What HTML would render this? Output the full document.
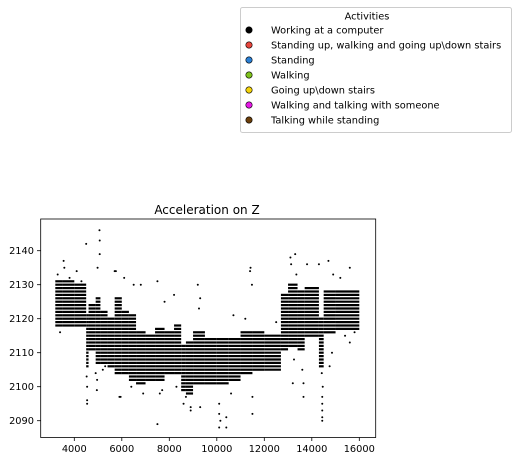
<!DOCTYPE html>
<html><head><meta charset="utf-8"><style>
body{margin:0;background:#fff;}
svg{display:block;font-family:"DejaVu Sans","Liberation Sans",sans-serif;}
</style></head><body>
<svg id="chart" width="517" height="461" viewBox="0 0 517 461" xmlns="http://www.w3.org/2000/svg">
<g>
<rect x="240.5" y="7.5" width="271" height="125" rx="2" fill="#fff" stroke="#ccc"/>
<text x="367" y="19.5" font-size="9.8" text-anchor="middle">Activities</text>
<g id="legendEntries"></g>
</g>
<text x="207" y="214" font-size="12" text-anchor="middle">Acceleration on Z</text>
<g id="plot"></g>
<rect x="40.7" y="219" width="335" height="218.5" fill="none" stroke="#000" stroke-width="0.8"/>
<g id="xticks"></g>
<g id="yticks"></g>
</svg>
<script>
const legendLabels=["Working at a computer","Standing up, walking and going up\\down stairs","Standing","Walking","Going up\\down stairs","Walking and talking with someone","Talking while standing"];
const legendColors=["#000000","#e8453c","#2a7fd4","#7fc31c","#f4d30a","#e619e6","#6b3e0a"];
const xTicks=[4000,6000,8000,10000,12000,14000,16000];
const yTicks=[2090,2100,2110,2120,2130,2140];
const segStart=[3200,3500,4000,4500,4600,4900,5100,5400,5700,6000,6300,6600,7000,7400,7800,8200,8500,8700,9000,9500,10000,10500,11000,11500,12000,12700,13000,13400,13700,14300,14500,15000];
const segEnd=[3500,4000,4500,4600,4900,5100,5400,5700,6000,6300,6600,7000,7400,7800,8200,8500,8700,9000,9500,10000,10500,11000,11500,12000,12700,13000,13400,13700,14300,14500,15000,16000];
const segLow=[2118,2118,2118,2106,2111,2107,2107,2106,2104,2104,2102,2101,2102,2102,2104,2104,2099,2098,2101,2101,2101,2102,2104,2105,2105,2111,2112,2111,2115,2106,2116,2117];
const segHigh=[2131,2131,2130,2121,2124,2126,2122,2120,2126,2122,2121,2116,2115,2117,2116,2118,2112,2113,2116,2114,2114,2114,2116,2116,2115,2127,2130,2128,2129,2120,2128,2128];
const outX=[3550,3580,3400,3300,3800,4100,4200,4300,4500,4520,4540,4540,4540,4560,4950,5060,5070,5070,4980,4900,4960,5200,5300,5700,5750,5900,5950,6100,6500,6400,6800,6900,7500,7500,7600,7800,7700,8200,8300,8600,8700,8900,8900,9200,9300,9300,9250,10100,10100,10100,10150,10400,10400,10700,10600,11400,11420,11500,11500,11480,11200,12500,13100,13130,13300,13350,13200,13250,13800,13650,13650,13600,14300,14420,14440,14440,14440,14440,14440,14460,14700,14750,14850,15600,15600,14900,15200,15400,15800];
const outY=[2137,2135,2116,2133,2132,2134,2118,2131,2142,2103,2100,2096,2095,2108,2099,2146,2143,2139,2135,2104,2102,2105,2106,2134,2134,2097,2097,2132,2130,2100,2130,2098,2131,2089,2098,2125,2099,2127,2100,2095,2097,2093,2094,2130,2094,2126,2123,2088,2092,2095,2090,2091,2088,2121,2098,2134,2135,2092,2097,2130,2120,2119,2138,2136,2139,2133,2101,2108,2136,2097,2101,2105,2136,2104,2097,2095,2093,2091,2090,2100,2137,2106,2110,2113,2135,2133,2132,2115,2116];
const SVGNS="http://www.w3.org/2000/svg";
function X(v){return 74.3+(v-4000)*(285/12000);}
function Y(v){return 250.7+(2140-v)*3.4;}
function mk(tag,attrs,parent){const e=document.createElementNS(SVGNS,tag);for(const k in attrs)e.setAttribute(k,attrs[k]);parent.appendChild(e);return e;}
const lg=document.getElementById('legendEntries');
legendLabels.forEach((l,i)=>{const y=30+i*15;
const c=mk('circle',{cx:249,cy:y,r:3.2,fill:legendColors[i],stroke:'#000','stroke-width':0.6},lg);


const t=mk('text',{x:271,y:y+3.5,'font-size':9.8},lg);t.textContent=l;

});
const plot=document.getElementById('plot');
segStart.forEach((s,i)=>{for(let v=segLow[i];v<=segHigh[i];v++){
const ln=mk('line',{x1:X(s),x2:X(segEnd[i]),y1:Y(v),y2:Y(v),stroke:'#000','stroke-width':2.2},plot);

}});
outX.forEach((x,i)=>{const c=mk('circle',{cx:X(x),cy:Y(outY[i]),r:1,fill:'#000'},plot);

});
const xg=document.getElementById('xticks');
xTicks.forEach(v=>{const l=mk('line',{x1:X(v),x2:X(v),y1:437.5,y2:441,stroke:'#000','stroke-width':0.8},xg);


const t=mk('text',{x:X(v),y:452,'font-size':9.8,'text-anchor':'middle'},xg);t.textContent=v;

});
const yg=document.getElementById('yticks');
yTicks.forEach(v=>{const l=mk('line',{x1:37,x2:40.7,y1:Y(v),y2:Y(v),stroke:'#000','stroke-width':0.8},yg);


const t=mk('text',{x:34,y:Y(v)+3.5,'font-size':9.8,'text-anchor':'end'},yg);t.textContent=v;

});
</script>
</body></html>
